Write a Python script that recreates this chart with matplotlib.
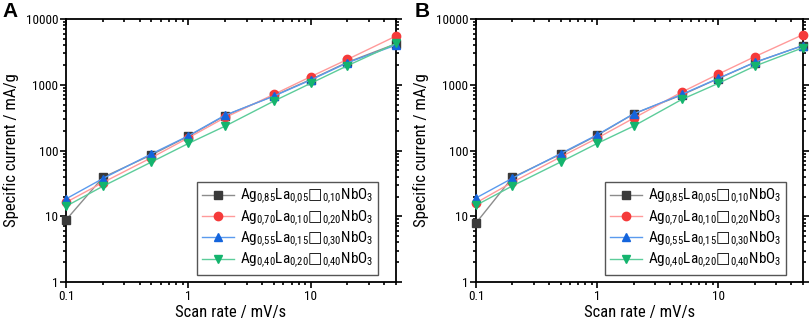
import matplotlib
matplotlib.use("Agg")
import matplotlib.pyplot as plt
import numpy as np
from matplotlib.ticker import LogLocator, NullFormatter, FixedLocator, FixedFormatter

FONT = ['Roboto Condensed', 'Liberation Sans', 'DejaVu Sans']
plt.rcParams['font.family'] = FONT
plt.rcParams['mathtext.fontset'] = 'custom'
plt.rcParams['mathtext.rm'] = 'Roboto Condensed'
plt.rcParams['mathtext.it'] = 'Roboto Condensed:italic'
plt.rcParams['mathtext.sf'] = 'DejaVu Sans'

# scan rates (mV/s)
scan_rate = [0.1, 0.2, 0.5, 1, 2, 5, 10, 20, 50]

# panel A, specific current (mA/g)
a_085 = [8.8, 39, 86, 165, 340, 680, 1200, 2200, 4200]
a_070 = [16.3, 32.6, 78, 156, 318, 713, 1325, 2430, 5510]
a_055 = [18.4, 37.5, 89, 167, 345, 672, 1180, 2160, 4020]
a_040 = [14.2, 28.6, 67, 128, 235, 564, 1050, 1950, 4250]

# panel B
b_085 = [7.9, 39, 88, 170, 360, 700, 1240, 2180, 3950]
b_070 = [16, 33, 80, 154, 310, 773, 1450, 2670, 5770]
b_055 = [19, 38, 90, 173, 361, 713, 1250, 2190, 3930]
b_040 = [14.7, 29, 67, 128, 235, 598, 1050, 1920, 3650]

labels = [r"Ag$_{0{,}85}$La$_{0{,}05}\mathsf{□}_{0{,}10}$NbO$_3$",
          r"Ag$_{0{,}70}$La$_{0{,}10}\mathsf{□}_{0{,}20}$NbO$_3$",
          r"Ag$_{0{,}55}$La$_{0{,}15}\mathsf{□}_{0{,}30}$NbO$_3$",
          r"Ag$_{0{,}40}$La$_{0{,}20}\mathsf{□}_{0{,}40}$NbO$_3$"]
marker_colors = ["#3a3a3a", "#f53a3a", "#1464dc", "#14b46e"]
line_colors = ["#8c8c8c", "#ff9a9a", "#5a9aee", "#5ccc9a"]
markers = ["s", "o", "^", "v"]

fig = plt.figure(figsize=(8.09, 3.22), dpi=100)
axA = fig.add_axes([0.0816, 0.124, 0.408, 0.817])
axB = fig.add_axes([0.5884, 0.124, 0.404, 0.817])

for ax, series, legx in [(axA, [a_085, a_070, a_055, a_040], 0.945),
                         (axB, [b_085, b_070, b_055, b_040], 0.948)]:
    for y, lab, mc, lc, m in zip(series, labels, marker_colors, line_colors, markers):
        ax.plot(scan_rate, y, color=lc, lw=1.0, marker=m, ms=6,
                mfc=mc, mec=mc, label=lab, clip_on=False, zorder=3)
    ax.set_xscale("log")
    ax.set_yscale("log")
    ax.set_xlim(0.1, 50)
    ax.set_ylim(1, 10000)
    ax.xaxis.set_major_locator(FixedLocator([0.1, 1, 10]))
    ax.xaxis.set_major_formatter(FixedFormatter(["0.1", "1", "10"]))
    ax.xaxis.set_minor_locator(LogLocator(base=10, subs=np.arange(2, 10), numticks=20))
    ax.xaxis.set_minor_formatter(NullFormatter())
    ax.yaxis.set_major_locator(FixedLocator([1, 10, 100, 1000, 10000]))
    ax.yaxis.set_major_formatter(FixedFormatter(["1", "10", "100", "1000", "10000"]))
    ax.yaxis.set_minor_locator(LogLocator(base=10, subs=np.arange(2, 10), numticks=20))
    ax.yaxis.set_minor_formatter(NullFormatter())
    ax.tick_params(which="both", direction="out", labelsize=9.5, width=1.2, pad=1.5)
    ax.tick_params(which="major", length=4)
    ax.tick_params(which="minor", length=2.5)
    ax.tick_params(which="both", top=True, right=True)
    # top/right ticks point inward
    for t in ax.xaxis.get_ticklines(minor=False)[1::2] + ax.xaxis.get_ticklines(minor=True)[1::2]:
        t.set_marker(3)
    for t in ax.yaxis.get_ticklines(minor=False)[1::2] + ax.yaxis.get_ticklines(minor=True)[1::2]:
        t.set_marker(1)
    for s in ax.spines.values():
        s.set_linewidth(1.3)
    ax.set_xlabel("Scan rate / mV/s", fontsize=12, labelpad=2)
    ax.set_ylabel("Specific current / mA/g", fontsize=12, labelpad=5)
    leg = ax.legend(loc="lower right", bbox_to_anchor=(legx, 0.027), fontsize=11,
                    fancybox=False, framealpha=1, edgecolor="#555555",
                    handlelength=2.1, borderpad=0.3, labelspacing=0.12,
                    handletextpad=0.4, borderaxespad=0)
    leg.get_frame().set_linewidth(1.0)

fig.text(0.003, 0.995, "A", fontsize=15, fontweight="bold", va="top", ha="left",
         family=['Liberation Sans', 'DejaVu Sans'])
fig.text(0.512, 0.995, "B", fontsize=15, fontweight="bold", va="top", ha="left",
         family=['Liberation Sans', 'DejaVu Sans'])

fig.savefig("out.png", dpi=100)
